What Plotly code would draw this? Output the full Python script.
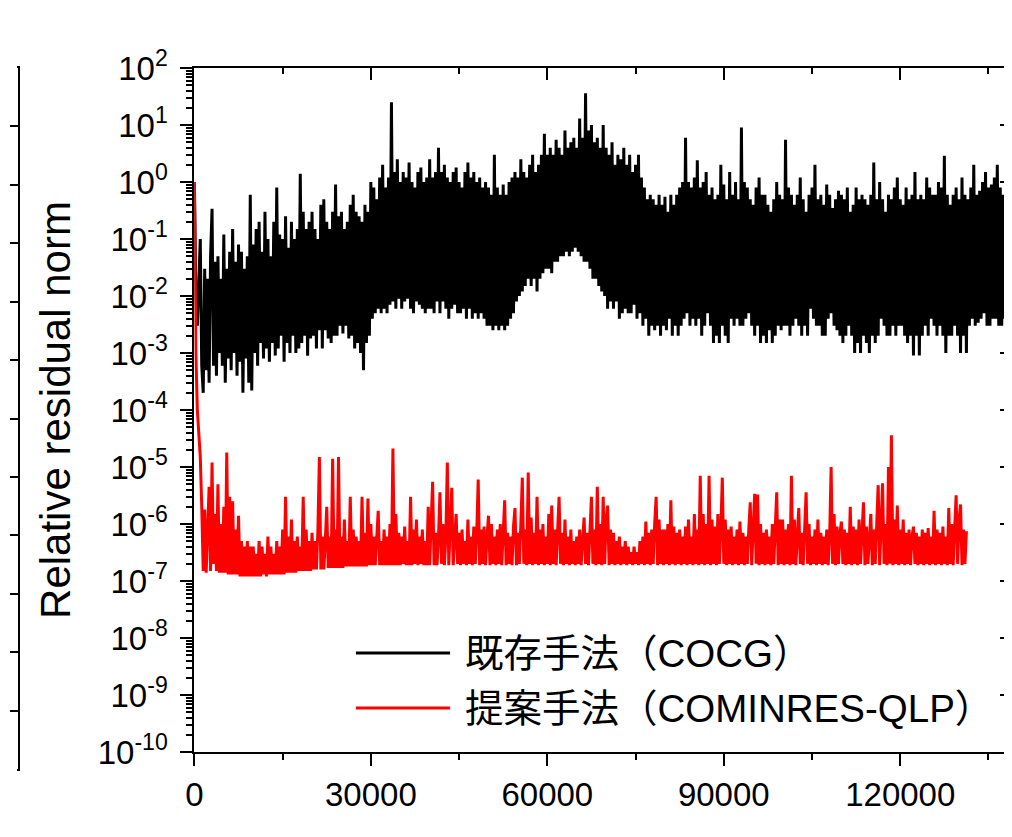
import plotly.graph_objects as go

# ---------------- data ----------------
iter_step = 250  # iterations between successive samples

black_values = [
    # 0 - 9.75k
    1.0, 1e-2, 3e-3, 0.02, 0.1, 6e-4, 2e-4, 0.03, 5e-4, 0.02,
    3e-4, 0.05, 0.34, 6e-4, 0.04, 4e-4, 0.05, 1e-3, 0.02, 6e-4,
    0.12, 3e-4, 0.03, 8e-4, 0.06, 5e-4, 0.15, 1e-3, 0.04, 4e-4,
    0.08, 7e-4, 0.06, 2e-4, 0.03, 8e-4, 0.05, 3e-4, 0.6, 2.2e-4,
    # 10k - 19.75k
    0.08, 1e-3, 0.15, 6e-4, 0.2, 1.5e-3, 0.06, 8e-4, 0.3, 1.2e-3,
    0.1, 7e-4, 0.05, 1.5e-3, 0.2, 9e-4, 0.8, 1.2e-3, 0.12, 2e-3,
    0.1, 7e-4, 0.25, 1.5e-3, 0.07, 1e-3, 0.2, 2e-3, 0.1, 1e-3,
    0.15, 1.2e-3, 1.4, 1.5e-3, 0.3, 2e-3, 0.15, 9e-4, 0.2, 1.8e-3,
    # 20k - 29.75k
    0.3, 2e-3, 0.15, 1.2e-3, 0.1, 2.5e-3, 0.4, 1.2e-3, 0.5, 2.5e-3,
    0.2, 1.8e-3, 0.15, 1.5e-3, 0.3, 2e-3, 0.9, 2e-3, 0.25, 3e-3,
    0.3, 2.2e-3, 0.15, 3e-3, 0.2, 1.8e-3, 0.4, 2e-3, 0.6, 1.2e-3,
    0.3, 1.5e-3, 0.25, 1e-3, 0.2, 5e-4, 0.4, 1.5e-3, 0.3, 2e-3,
    # 30k - 39.75k
    1.0, 4e-3, 0.8, 5e-3, 0.5, 6e-3, 1.2, 5e-3, 2.0, 6e-3,
    0.8, 5e-3, 1.2, 7e-3, 25, 8e-3, 1.5, 6e-3, 2.5, 9e-3,
    1.0, 6e-3, 1.5, 8e-3, 1.2, 9e-3, 2.2, 6e-3, 1.0, 5e-3,
    0.8, 8e-3, 1.5, 7e-3, 1.8, 6e-3, 1.0, 5e-3, 1.2, 6e-3,
    # 40k - 49.75k
    2.5, 6e-3, 1.2, 5e-3, 1.5, 8e-3, 4.0, 5e-3, 1.5, 8e-3,
    2.0, 6e-3, 1.2, 4e-3, 1.0, 6e-3, 1.5, 7e-3, 1.8, 5e-3,
    1.0, 5e-3, 0.8, 6e-3, 1.5, 4e-3, 2.2, 6e-3, 1.2, 4e-3,
    1.5, 5e-3, 1.0, 4e-3, 1.2, 5e-3, 0.8, 4e-3, 1.0, 3e-3,
    # 50k - 59.75k
    0.8, 3e-3, 0.6, 2.5e-3, 3.0, 3e-3, 0.8, 2.5e-3, 0.6, 3e-3,
    0.9, 2.5e-3, 0.6, 3e-3, 1.0, 4e-3, 1.2, 5e-3, 1.5, 8e-3,
    1.2, 1e-2, 2.5, 1.2e-2, 1.5, 1.5e-2, 1.2, 2e-2, 2.0, 1.5e-2,
    3.0, 2e-2, 1.5, 1.2e-2, 2.0, 2e-2, 3.0, 2.5e-2, 7.0, 3e-2,
    # 60k - 69.75k
    3.0, 3e-2, 4.0, 2.5e-2, 3.0, 4e-2, 5.5, 4e-2, 4.0, 5e-2,
    3.0, 5e-2, 8.0, 6e-2, 4.0, 5e-2, 5.0, 6e-2, 6.0, 7e-2,
    4.0, 6e-2, 13, 5e-2, 6.0, 4e-2, 36, 4e-2, 8.0, 3e-2,
    10, 2e-2, 5.0, 2e-2, 6.0, 1.5e-2, 4.0, 1.2e-2, 10, 1e-2,
    # 70k - 79.75k
    4.0, 6e-3, 3.0, 8e-3, 5.0, 6e-3, 2.0, 8e-3, 3.0, 4e-3,
    2.5, 5e-3, 4.0, 6e-3, 2.0, 5e-3, 3.0, 5e-3, 1.5, 7e-3,
    2.0, 4e-3, 3.0, 5e-3, 1.2, 3e-3, 0.8, 4e-3, 0.5, 2e-3,
    0.6, 3e-3, 0.5, 2.5e-3, 0.4, 3e-3, 0.6, 2e-3, 0.4, 3e-3,
    # 80k - 89.75k
    0.55, 2.5e-3, 0.3, 4e-3, 0.6, 2e-3, 0.4, 3e-3, 0.6, 2e-3,
    0.8, 3e-3, 1.0, 4e-3, 6.0, 5e-3, 1.0, 3e-3, 0.8, 4e-3,
    1.2, 3e-3, 2.4, 4e-3, 0.8, 2e-3, 1.0, 3e-3, 1.5, 5e-3,
    0.6, 3e-3, 0.8, 1.5e-3, 0.5, 2e-3, 0.6, 1.5e-3, 2.0, 3e-3,
    # 90k - 99.75k
    0.9, 2e-3, 0.5, 1.5e-3, 1.5, 4e-3, 0.6, 3e-3, 1.0, 4e-3,
    0.5, 3e-3, 9.0, 3e-3, 1.0, 4e-3, 0.8, 5e-3, 0.5, 3e-3,
    0.4, 2e-3, 0.8, 3e-3, 1.2, 1.5e-3, 0.6, 2e-3, 0.6, 1.5e-3,
    0.4, 2.5e-3, 0.3, 1.5e-3, 0.5, 2e-3, 1.0, 3e-3, 0.6, 2.5e-3,
    # 100k - 109.75k
    0.5, 3e-3, 5.5, 3e-3, 0.8, 2e-3, 0.6, 3e-3, 0.4, 4e-3,
    0.6, 3e-3, 1.2, 2e-3, 0.5, 3e-3, 0.3, 2e-3, 0.6, 6e-3,
    0.8, 4e-3, 2.0, 3e-3, 0.5, 3e-3, 0.6, 2e-3, 0.4, 2e-3,
    0.9, 4e-3, 0.6, 5e-3, 0.35, 3e-3, 0.5, 2.5e-3, 0.7, 2e-3,
    # 110k - 119.75k
    0.6, 1.5e-3, 0.5, 2e-3, 0.8, 3e-3, 0.3, 2e-3, 0.4, 1e-3,
    0.8, 1.5e-3, 0.5, 1e-3, 0.6, 2e-3, 0.5, 1.5e-3, 0.4, 1e-3,
    0.6, 2e-3, 2.2, 1.5e-3, 0.5, 2e-3, 1.0, 4e-3, 0.5, 3e-3,
    0.3, 2e-3, 0.6, 2e-3, 0.5, 3e-3, 0.8, 2e-3, 1.2, 3e-3,
    # 120k - 129.75k
    0.5, 3e-3, 0.4, 2e-3, 0.8, 1.5e-3, 0.5, 2e-3, 0.6, 9e-4,
    1.5, 2e-3, 0.5, 9e-4, 0.6, 2e-3, 0.5, 3e-3, 1.2, 2e-3,
    0.8, 4e-3, 0.6, 3e-3, 0.6, 2e-3, 1.0, 3e-3, 0.8, 2e-3,
    2.9, 1e-3, 0.6, 2e-3, 0.4, 2e-3, 0.6, 3e-3, 0.8, 2e-3,
    # 130k - 140k
    0.5, 1e-3, 1.2, 2e-3, 0.6, 1e-3, 0.5, 3e-3, 0.8, 4e-3,
    2.0, 3e-3, 0.6, 3.4e-3, 0.7, 4e-3, 1.0, 5e-3, 1.5, 3e-3,
    0.8, 3e-3, 0.9, 4e-3, 1.2, 4e-3, 2.0, 3e-3, 0.8, 3e-3,
    0.6, 4e-3, 1.0, 5e-3, 1.8, 4e-3, 0.8, 4e-3, 1.0, 3e-3, 1.5,
]

red_values = [
    # 0 - 9.75k
    1.0, 1e-3, 1e-4, 3e-5, 1.5e-5, 2e-6, 1.5e-7, 1.8e-6, 1.4e-7, 8e-7,
    4.5e-6, 1.5e-7, 1.2e-5, 2e-7, 1.5e-6, 1.5e-7, 5e-6, 1.4e-7, 1e-6, 1.4e-7,
    2e-6, 1.4e-7, 1.8e-5, 1.3e-7, 3e-6, 1.3e-7, 2.5e-6, 1.3e-7, 8e-7, 1.3e-7,
    1.4e-6, 1.2e-7, 5e-7, 1.2e-7, 4e-7, 1.2e-7, 5e-7, 1.2e-7, 4e-7, 1.2e-7,
    # 10k - 19.75k
    4e-7, 1.2e-7, 3e-7, 1.2e-7, 5e-7, 1.2e-7, 4e-7, 1.3e-7, 3e-7, 1.2e-7,
    6e-7, 1.3e-7, 4e-7, 1.3e-7, 3e-7, 1.3e-7, 5e-7, 1.3e-7, 4e-7, 1.3e-7,
    8e-7, 1.3e-7, 3e-6, 1.4e-7, 6e-7, 1.4e-7, 1.2e-6, 1.4e-7, 5e-7, 1.4e-7,
    6e-7, 1.5e-7, 4e-7, 1.5e-7, 3e-6, 1.5e-7, 8e-7, 1.5e-7, 5e-7, 1.5e-7,
    # 20k - 29.75k
    7e-7, 1.6e-7, 5e-7, 1.6e-7, 8e-7, 1.5e-5, 1.6e-7, 6e-7, 1.6e-7, 5e-7,
    2e-6, 1.7e-7, 6e-7, 1.7e-7, 1.4e-5, 1.7e-7, 8e-7, 1.7e-7, 1.5e-5, 1.7e-7,
    6e-7, 1.7e-7, 1.2e-6, 1.8e-7, 5e-7, 1.8e-7, 3e-6, 1.8e-7, 8e-7, 1.8e-7,
    6e-7, 1.8e-7, 5e-7, 1.8e-7, 3e-6, 1.8e-7, 7e-7, 1.8e-7, 2.8e-6, 1.9e-7,
    # 30k - 39.75k
    1e-6, 1.9e-7, 6e-7, 1.9e-7, 8e-7, 1.7e-6, 1.9e-7, 5e-7, 1.9e-7, 8e-7,
    1.9e-7, 6e-7, 1.9e-7, 1e-6, 1.9e-7, 2.1e-5, 1.9e-7, 1.5e-6, 1.9e-7, 7e-7,
    1.9e-7, 6e-7, 2e-7, 9e-7, 1.9e-7, 5e-7, 1.9e-7, 3e-6, 1.9e-7, 8e-7,
    2e-7, 1.2e-6, 1.9e-7, 6e-7, 2e-7, 8e-7, 1.9e-7, 5e-7, 1.9e-7, 2e-6,
    # 40k - 49.75k
    1.9e-7, 8e-7, 5.5e-6, 1.9e-7, 7e-7, 1.9e-7, 6e-7, 3.6e-6, 2e-7, 1e-6,
    1.9e-7, 6e-7, 1.2e-5, 1.9e-7, 8e-7, 4.3e-6, 1.9e-7, 6e-7, 1.5e-6, 2e-7,
    7e-7, 1.9e-7, 8e-7, 2e-7, 5e-7, 1.9e-7, 1.2e-6, 2e-7, 6e-7, 1.9e-7,
    9e-7, 2e-7, 7e-7, 6e-6, 1.9e-7, 8e-7, 2e-7, 9e-7, 1.9e-7, 6e-7,
    # 50k - 59.75k
    1.4e-6, 1.9e-7, 1e-6, 2e-7, 6e-7, 1.9e-7, 8e-7, 2e-7, 1e-6, 1.9e-7,
    6e-7, 2.6e-6, 1.9e-7, 7e-7, 2e-7, 6e-7, 1.9e-7, 9e-7, 1.9e-6, 1.9e-7,
    7e-7, 2e-7, 1e-6, 6.5e-6, 2e-7, 8e-7, 1.9e-7, 8e-6, 2e-7, 1.3e-6,
    1.9e-7, 7e-7, 2e-7, 3e-6, 1.9e-7, 8e-7, 2e-7, 1e-6, 1.9e-7, 6e-7,
    # 60k - 69.75k
    2e-7, 1.5e-6, 1.9e-7, 2.1e-6, 2e-7, 8e-7, 1.9e-7, 6e-7, 3e-6, 2e-7,
    7e-7, 1.9e-7, 1.2e-6, 2e-7, 6e-7, 1.9e-7, 8e-7, 2e-7, 5e-7, 1.9e-7,
    6e-7, 2e-7, 8e-7, 1.9e-7, 6e-7, 1.3e-6, 2e-7, 7e-7, 1.9e-7, 1e-6,
    3e-6, 2e-7, 8e-7, 1.9e-7, 4.5e-6, 2e-7, 1e-6, 1.9e-7, 3e-6, 2e-7,
    # 70k - 79.75k
    1.2e-6, 2.1e-6, 1.9e-7, 8e-7, 2e-7, 7e-7, 1.9e-7, 5e-7, 2e-7, 6e-7,
    1.9e-7, 4e-7, 2e-7, 5e-7, 1.9e-7, 4e-7, 2e-7, 3.2e-7, 1.9e-7, 4e-7,
    2e-7, 3.2e-7, 1.9e-7, 5e-7, 2e-7, 6e-7, 1.9e-7, 1.1e-6, 2e-7, 7e-7,
    1.9e-7, 8e-7, 2e-7, 1e-6, 3e-6, 1.9e-7, 1.2e-6, 2e-7, 8e-7, 1.9e-7,
    # 80k - 89.75k
    8e-7, 2e-7, 1e-6, 1.9e-7, 2.6e-6, 2e-7, 9e-7, 1.9e-7, 7e-7, 2e-7,
    8e-7, 1.9e-7, 6e-7, 2e-7, 9e-7, 1.9e-7, 1.2e-6, 2e-7, 6e-7, 1.9e-7,
    1.5e-6, 2e-7, 8e-7, 1.9e-7, 7e-6, 2e-7, 1.5e-6, 1.9e-7, 1e-6, 2e-7,
    7e-6, 1.9e-7, 1.2e-6, 2e-7, 9e-7, 1.9e-7, 1.5e-6, 2e-7, 8e-7, 6.5e-6,
    # 90k - 99.75k
    2e-7, 1.2e-6, 1.9e-7, 8e-7, 2e-7, 9e-7, 1.9e-7, 6e-7, 2e-7, 8e-7,
    1.9e-7, 1.1e-6, 2e-7, 7e-7, 1.9e-7, 6e-7, 2e-7, 8e-7, 2.4e-6, 1.9e-7,
    1e-6, 3.4e-6, 2e-7, 3.3e-6, 1.9e-7, 1e-6, 2e-7, 7e-7, 1.9e-7, 8e-7,
    2e-7, 6e-7, 1.9e-7, 1e-6, 2e-7, 8e-7, 3.6e-6, 1.9e-7, 1.2e-6, 2e-7,
    # 100k - 109.75k
    1.2e-6, 1.9e-7, 8e-7, 2e-7, 1e-6, 1.9e-7, 7e-6, 2e-7, 1.2e-6, 1.9e-7,
    8e-7, 1.9e-6, 2e-7, 7e-7, 1.9e-7, 9e-7, 3.6e-6, 2e-7, 1e-6, 1.9e-7,
    6e-7, 2e-7, 8e-7, 1.9e-7, 1.2e-6, 2e-7, 7e-7, 1.9e-7, 6e-7, 2e-7,
    8e-7, 1.9e-7, 6e-7, 1e-5, 2e-7, 1.5e-6, 1.9e-7, 9e-7, 2e-7, 7e-7,
    # 110k - 119.75k
    1.1e-6, 2e-7, 8e-7, 1.9e-7, 7e-7, 2e-7, 2e-6, 1.9e-7, 9e-7, 2e-7,
    8e-7, 1.9e-7, 1.2e-6, 2e-7, 8e-7, 2.4e-6, 1.9e-7, 9e-7, 2e-7, 7e-7,
    1.5e-6, 1.9e-7, 8e-7, 2e-7, 1e-6, 4.8e-6, 1.9e-7, 1.2e-6, 5.2e-6, 2e-7,
    1e-6, 1.9e-7, 1e-5, 2e-7, 3.6e-5, 1.9e-7, 1.2e-6, 2e-7, 2.1e-6, 1.9e-7,
    # 120k - 129.75k
    8e-7, 2e-7, 1.2e-6, 1.9e-7, 7e-7, 2e-7, 8e-7, 1.9e-7, 6e-7, 9e-7,
    2e-7, 7e-7, 1.9e-7, 6e-7, 2e-7, 8e-7, 1.9e-7, 7e-7, 2e-7, 8.5e-7,
    1.9e-7, 6e-7, 2e-7, 1.7e-6, 1.9e-7, 8e-7, 2e-7, 7e-7, 1.9e-7, 9e-7,
    2e-7, 6e-7, 1.9e-7, 1.9e-6, 2e-7, 1e-6, 1.9e-7, 8e-7, 3.2e-6, 2e-7,
    # 130k - 131.25k
    1.2e-6, 2.2e-6, 1.9e-7, 8e-7, 2e-7, 7.5e-7,
]

black_iters = [i * iter_step for i in range(len(black_values))]
red_iters = [i * iter_step for i in range(len(red_values))]

series_names = ["既存手法（COCG）", "提案手法（COMINRES-QLP）"]
series_colors = ["#000000", "#ff0000"]

x_tick_vals = [0, 30000, 60000, 90000, 120000]
x_tick_text = ["0", "30000", "60000", "90000", "120000"]
x_range = [0, 139000]

y_exponents = [2, 1, 0, -1, -2, -3, -4, -5, -6, -7, -8, -9, -10]
y_tick_vals = [10.0 ** e for e in y_exponents]
y_tick_text = ["10<sup>%d</sup>" % e for e in y_exponents]
y_minor_vals = [m * 10.0 ** e for e in range(-10, 2) for m in range(2, 10)]
y_range_log = [-10, 2]

y_title = "Relative residual norm"

# ---------------- figure ----------------
# the page body has an 8 px margin, so the figure is 16 px smaller than the window
W, H = 1004, 821
FONT = "Liberation Sans, Arial, Noto Sans CJK JP, sans-serif"

fig = go.Figure()
fig.add_trace(go.Scatter(x=black_iters, y=black_values, mode="lines", name=series_names[0],
                         line=dict(color=series_colors[0], width=3), showlegend=False))
fig.add_trace(go.Scatter(x=red_iters, y=red_values, mode="lines", name=series_names[1],
                         line=dict(color=series_colors[1], width=3), showlegend=False))
# empty helpers so that the mirrored axes and the neighbouring panel edge get drawn
fig.add_trace(go.Scatter(x=[], y=[], xaxis="x2", yaxis="y2", showlegend=False, hoverinfo="skip"))
fig.add_trace(go.Scatter(x=[], y=[], xaxis="x3", yaxis="y3", showlegend=False, hoverinfo="skip"))

PLOT_TOP, PLOT_BOTTOM = 60, 761          # outer box (incl. the neighbouring panel)
x_dom = [179 / W, 1.0]
y_dom = [17 / (PLOT_BOTTOM - PLOT_TOP), 1.0]

common_line = dict(showline=True, linecolor="black", linewidth=2, showgrid=False, zeroline=False)
TICK_FONT = dict(size=33)

fig.update_layout(
    width=W, height=H,
    margin=dict(l=0, r=0, t=PLOT_TOP, b=H - PLOT_BOTTOM),
    paper_bgcolor="white", plot_bgcolor="white",
    font=dict(family=FONT, color="black", size=33),
    showlegend=False,
    xaxis=dict(domain=x_dom, anchor="y", range=x_range,
               tickmode="array", tickvals=x_tick_vals, ticktext=x_tick_text,
               ticks="outside", ticklen=12, tickwidth=2, tickcolor="black",
               minor=dict(dtick=15000, tick0=0, ticks="outside", ticklen=6, tickwidth=2,
                          tickcolor="black", showgrid=False),
               tickfont=TICK_FONT, **common_line),
    yaxis=dict(domain=y_dom, anchor="x", type="log", range=y_range_log,
               tickmode="array", tickvals=y_tick_vals, ticktext=y_tick_text,
               ticks="outside", ticklen=12, tickwidth=2, tickcolor="black",
               ticklabelstandoff=6,
               minor=dict(tickmode="array", tickvals=y_minor_vals, ticks="outside",
                          ticklen=6, tickwidth=1.5, tickcolor="black", showgrid=False),
               tickfont=TICK_FONT,
               title=dict(text=y_title, font=dict(size=42), standoff=14),
               **common_line),
    xaxis2=dict(domain=x_dom, anchor="y", overlaying="x", side="top", range=x_range,
                tickmode="array", tickvals=x_tick_vals, showticklabels=False,
                ticks="inside", ticklen=12, tickwidth=2, tickcolor="black",
                minor=dict(dtick=15000, tick0=0, ticks="inside", ticklen=6, tickwidth=2,
                           tickcolor="black", showgrid=False),
                **common_line),
    yaxis2=dict(domain=y_dom, anchor="x", overlaying="y", side="right", type="log",
                range=y_range_log, tickmode="array", tickvals=y_tick_vals,
                showticklabels=False, ticks="inside", ticklen=12, tickwidth=2,
                tickcolor="black",
                minor=dict(tickmode="array", tickvals=y_minor_vals, ticks="inside",
                           ticklen=6, tickwidth=1.5, tickcolor="black", showgrid=False),
                **common_line),
    xaxis3=dict(domain=[0, 1 / W], anchor="y3", range=[0, 1], mirror=True,
                ticks="", showticklabels=False, **common_line),
    yaxis3=dict(domain=[0, 1], anchor="x3", side="right", range=[0, 12], tick0=0, dtick=1,
                ticks="inside", ticklen=8, tickwidth=2, tickcolor="black",
                showticklabels=False, **common_line),
)

# legend drawn by hand (long sample lines like the reference)
legend_rows_y = [(PLOT_BOTTOM - 645) / (PLOT_BOTTOM - PLOT_TOP),
                 (PLOT_BOTTOM - 700) / (PLOT_BOTTOM - PLOT_TOP)]
for name, color, yy in zip(series_names, series_colors, legend_rows_y):
    fig.add_shape(type="line", xref="paper", yref="paper",
                  x0=342 / W, x1=437 / W, y0=yy, y1=yy,
                  line=dict(color=color, width=3))
    fig.add_annotation(xref="paper", yref="paper", x=450 / W, y=yy,
                       xanchor="left", yanchor="middle", showarrow=False,
                       text=name, font=dict(family=FONT, size=38.5, color="black"))

fig.write_html("out.html")
